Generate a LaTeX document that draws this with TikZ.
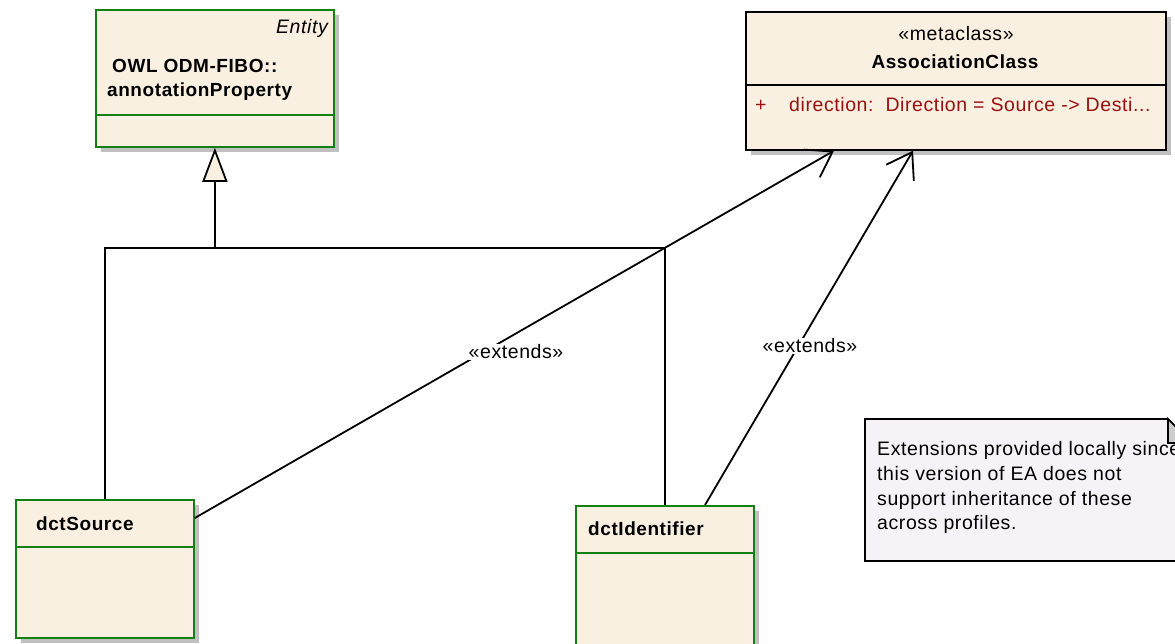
\documentclass[tikz,border=0pt]{standalone}
\usepackage{fontspec}
\setmainfont{Liberation Sans}[LetterSpace=3]
\usetikzlibrary{arrows.meta}
\definecolor{umlfill}{RGB}{249,240,225}
\definecolor{umlgreen}{RGB}{20,128,20}
\definecolor{shadowgray}{RGB}{192,192,192}
\definecolor{attrred}{RGB}{155,15,15}
\definecolor{notefill}{RGB}{245,243,247}
\definecolor{foldgray}{RGB}{205,205,205}
\tikzset{
  clsbox/.style={draw=umlgreen, line width=1.8pt, fill=umlfill, anchor=north west, inner sep=0pt},
  metabox/.style={draw=black, line width=1.7pt, fill=umlfill, anchor=north west, inner sep=0pt},
  txt/.style={font=\fontsize{19.5}{23}\selectfont, inner sep=0pt, anchor=base west},
  btxt/.style={font=\fontsize{19}{23}\selectfont\bfseries, inner sep=0pt, anchor=base west},
  conn/.style={line width=1.8pt, draw=black},
  ext/.style={conn, -{Straight Barb[length=24pt,width=32pt,line width=1.8pt]}},
  gen/.style={conn, -{Triangle[length=34pt,width=25pt,fill=umlfill,line width=1.8pt]}},
  lbl/.style={font=\fontsize{19.5}{23}\selectfont, fill=white, inner sep=1pt},
}
\begin{document}
\begin{tikzpicture}[x=1pt,y=-1pt]
\useasboundingbox (0,0) rectangle (1175,643);
% shadows
\fill[shadowgray] (101,15) rectangle (339,152);
\fill[shadowgray] (751,17) rectangle (1171,155);
\fill[shadowgray] (21,505) rectangle (199,643);
\fill[shadowgray] (581,511) rectangle (759,660);
% boxes
\node[clsbox, minimum width=238pt, minimum height=137pt] (entity) at (95,9) {};
\draw[umlgreen, line width=1.8pt] (95,115) -- (333,115);
\node[metabox, minimum width=420pt, minimum height=138pt] (assoc) at (745,11) {};
\draw[line width=1.7pt] (745,85) -- (1165,85);
\node[clsbox, minimum width=178pt, minimum height=138pt] (src) at (15,499) {};
\draw[umlgreen, line width=1.8pt] (15,547) -- (193,547);
\node[clsbox, minimum width=178pt, minimum height=150pt] (ident) at (575,505) {};
\draw[umlgreen, line width=1.8pt] (575,553) -- (753,553);
% note
\draw[line width=1.7pt, fill=notefill] (865,419) -- (1168,419) -- (1192,443) -- (1192,561) -- (865,561) -- cycle;
\draw[line width=1.7pt, fill=foldgray] (1168,419) -- (1168,443) -- (1192,443) -- cycle;
% texts
\node[txt, anchor=base east, font=\fontsize{19.5}{23}\selectfont\itshape] (entitystereo) at (328,33) {Entity};
\node[btxt] (entityname1) at (112,72) {OWL ODM-FIBO::};
\node[btxt] (entityname2) at (107,96) {annotationProperty};
\node[txt, anchor=base] (assocstereo) at (956,40) {«metaclass»};
\node[btxt, anchor=base] (assocname) at (955,68) {AssociationClass};
\node[txt, text=attrred] (plus) at (755,111) {+};
\node[txt, text=attrred] (attr) at (789,111) {direction:\ \ Direction = Source -> Desti...};
\node[btxt] (srcname) at (36,530) {dctSource};
\node[btxt] (identname) at (588,535) {dctIdentifier};
\node[txt] (n1) at (877,455) {Extensions provided locally since};
\node[txt] (n2) at (877,480) {this version of EA does not};
\node[txt] (n3) at (877,505) {support inheritance of these};
\node[txt] (n4) at (877,529) {across profiles.};
% generalization
\coordinate (j) at (215,248);
\draw[conn] (src.north) -- (src.north |- j) -- (ident.north |- j) -- (ident.north);
\draw[gen] (entity.south |- j) -- (entity.south);
% extends
\coordinate (e1s) at ([yshift=-19pt]src.north east);
\coordinate (e1t) at ([xshift=89pt]assoc.south west);
\coordinate (e2s) at ([xshift=130pt]ident.north west);
\coordinate (e2t) at ([xshift=168pt]assoc.south west);
\draw[ext] (e1s) -- (e1t);
\draw[ext] (e2s) -- (e2t);
\node[lbl] (l1) at (516,352) {«extends»};
\node[lbl] (l2) at (810,346) {«extends»};
\end{tikzpicture}
\end{document}
